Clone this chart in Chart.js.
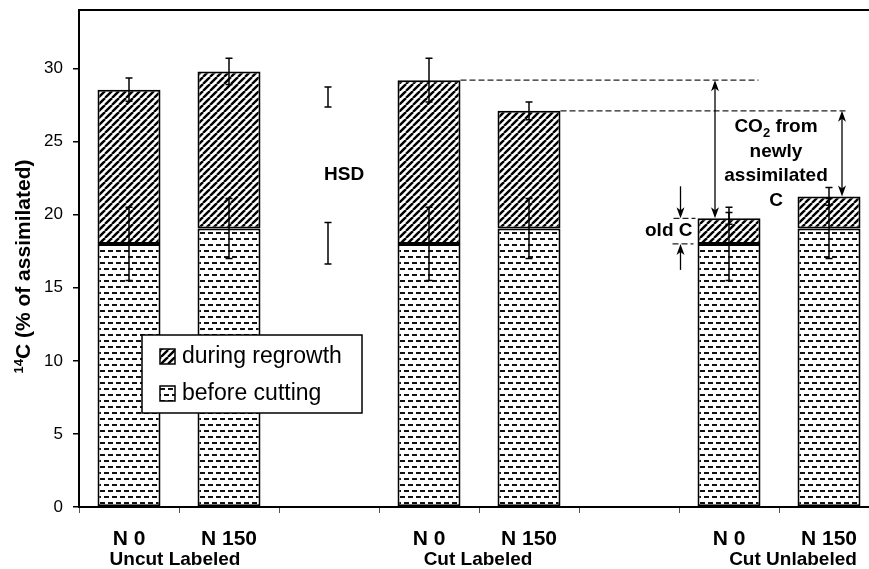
<!DOCTYPE html>
<html lang="en">
  <head>
    <meta charset="UTF-8" />
    <title>14C partitioning after cutting</title>
    <script src="https://cdn.jsdelivr.net/npm/chart.js"></script>
    <style>
      html, body { margin: 0; padding: 0; overflow: hidden; background: #fff; }
    </style>
  </head>
  <body>
    <canvas id="carbonChart" width="880" height="569"></canvas>

    <script>
      // values (% of assimilated 14C)
      const categories = ["N 0", "N 150", "", "N 0", "N 150", "", "N 0", "N 150"];
      const groups = ["Uncut Labeled", "Cut Labeled", "Cut Unlabeled"];
      const beforeCutting = [18.0, 19.05, null, 18.0, 19.05, null, 18.0, 19.05];
      const duringRegrowth = [10.55, 10.75, null, 11.2, 8.05, null, 1.75, 2.2];
      const errTotal = [0.8, 0.9, null, 1.5, 0.6, null, 0.4, 0.6];
      const errBefore = [2.5, 2.05, null, 2.5, 2.05, null, 2.5, 2.05];
      const hsdMid = [28.05, 18.05];
      const hsdHalf = [0.68, 1.42];
      const yTicks = [0, 5, 10, 15, 20, 25, 30];

      const FONT = "'Liberation Sans', Arial, sans-serif";
      const canvas = document.getElementById("carbonChart");
      const ctx = canvas.getContext("2d");

      function makeHatch() {
        const c = document.createElement("canvas");
        c.width = 7;
        c.height = 7;
        const g = c.getContext("2d");
        g.fillStyle = "#fff";
        g.fillRect(0, 0, 7, 7);
        g.strokeStyle = "#000";
        g.lineWidth = 2.4;
        for (const o of [-7, 0, 7]) {
          g.beginPath();
          g.moveTo(o, 7);
          g.lineTo(o + 7, 0);
          g.stroke();
        }
        return ctx.createPattern(c, "repeat");
      }

      function makeDashes() {
        const c = document.createElement("canvas");
        c.width = 8;
        c.height = 12;
        const g = c.getContext("2d");
        g.fillStyle = "#fff";
        g.fillRect(0, 0, 8, 12);
        g.fillStyle = "#111";
        g.fillRect(0, 4, 5, 2);
        g.fillRect(4, 10, 4, 2);
        g.fillRect(0, 10, 1, 2);
        return ctx.createPattern(c, "repeat");
      }

      const hatch = makeHatch();
      const dashes = makeDashes();

      function totalAt(i) {
        return beforeCutting[i] + duringRegrowth[i];
      }

      function vline(c, x, y1, y2) {
        c.beginPath();
        c.moveTo(x, y1);
        c.lineTo(x, y2);
        c.stroke();
      }

      function head(c, x, y, dir) {
        // dir = +1 points down, -1 points up
        c.beginPath();
        c.moveTo(x, y);
        c.lineTo(x - 4, y - dir * 11);
        c.lineTo(x, y - dir * 8);
        c.lineTo(x + 4, y - dir * 11);
        c.closePath();
        c.fill();
      }

      function errBar(c, x, y1, y2, cap) {
        vline(c, x, y1, y2);
        c.beginPath();
        c.moveTo(x - cap, y1);
        c.lineTo(x + cap, y1);
        c.moveTo(x - cap, y2);
        c.lineTo(x + cap, y2);
        c.stroke();
      }

      const extras = {
        id: "extras",
        afterDatasetsDraw(chart) {
          const c = chart.ctx;
          const xs = chart.scales.x;
          const ys = chart.scales.y;
          const area = chart.chartArea;
          const bars = chart.getDatasetMeta(0).data;

          c.save();
          c.strokeStyle = "#000";
          c.fillStyle = "#000";

          // top frame line
          c.lineWidth = 2;
          c.beginPath();
          c.moveTo(area.left - 1, area.top);
          c.lineTo(chart.width, area.top);
          c.stroke();

          // error bars
          c.lineWidth = 1.5;
          categories.forEach((cat, i) => {
            if (beforeCutting[i] == null) return;
            const x = bars[i].x;
            const t = totalAt(i);
            errBar(c, x, ys.getPixelForValue(t + errTotal[i]), ys.getPixelForValue(t - errTotal[i]), 3.5);
            errBar(c, x, ys.getPixelForValue(beforeCutting[i] + errBefore[i]), ys.getPixelForValue(beforeCutting[i] - errBefore[i]), 3.5);
          });

          // HSD bars
          const hx = xs.getPixelForValue(2) - 1;
          hsdMid.forEach((m, k) => {
            errBar(c, hx, ys.getPixelForValue(m + hsdHalf[k]), ys.getPixelForValue(m - hsdHalf[k]), 3.5);
          });
          c.font = "bold 19px " + FONT;
          c.textAlign = "left";
          c.textBaseline = "middle";
          const hsdY = (ys.getPixelForValue(hsdMid[0] - hsdHalf[0]) + ys.getPixelForValue(hsdMid[1] + hsdHalf[1])) / 2 + 10;
          c.fillText("HSD", hx - 4, hsdY);

          // dashed reference lines
          const b3 = bars[3], b4 = bars[4], b6 = bars[6], b7 = bars[7];
          const yT3 = ys.getPixelForValue(totalAt(3));
          const yT4 = ys.getPixelForValue(totalAt(4));
          const yT6 = ys.getPixelForValue(totalAt(6));
          const yT7 = ys.getPixelForValue(totalAt(7));
          const yB6 = ys.getPixelForValue(beforeCutting[6]);
          c.lineWidth = 1.2;
          c.strokeStyle = "#222";
          c.setLineDash([6, 3]);
          c.beginPath();
          c.moveTo(b3.x + b3.width / 2, yT3);
          c.lineTo(b6.x + b6.width / 2 - 2, yT3);
          c.moveTo(b4.x + b4.width / 2, yT4);
          c.lineTo(b7.x + 18, yT4);
          c.stroke();
          // short marks for old C
          const left6 = b6.x - b6.width / 2;
          c.beginPath();
          c.moveTo(left6 - 24, yT6);
          c.lineTo(left6 - 2, yT6);
          c.moveTo(left6 - 25, yB6);
          c.lineTo(left6 - 4, yB6);
          c.stroke();
          c.setLineDash([]);

          // arrows
          c.strokeStyle = "#000";
          c.lineWidth = 1.3;
          const ax1 = b6.x - 14;
          vline(c, ax1, yT3 + 4, yT6 - 4);
          head(c, ax1, yT3, -1);
          head(c, ax1, yT6, 1);
          const ax2 = b7.x + 13;
          vline(c, ax2, yT4 + 4, yT7 - 4);
          head(c, ax2, yT4, -1);
          head(c, ax2, yT7, 1);
          const ax3 = left6 - 17;
          vline(c, ax3, yT6 - 32, yT6 - 4);
          head(c, ax3, yT6, 1);
          vline(c, ax3, yB6 + 26, yB6 + 4);
          head(c, ax3, yB6, -1);

          // text annotations
          c.font = "bold 19px " + FONT;
          c.textAlign = "right";
          c.fillText("old C", left6 - 5, (yT6 + yB6) / 2);

          const cx = (b6.x + b7.x) / 2 - 3;
          let ty = yT3 + 47;
          const subFont = "bold 13px " + FONT;
          const w1 = c.measureText("CO").width;
          const w3 = c.measureText(" from").width;
          c.font = subFont;
          const w2 = c.measureText("2").width;
          let sx = cx - (w1 + w2 + w3) / 2;
          c.textAlign = "left";
          c.font = "bold 19px " + FONT;
          c.fillText("CO", sx, ty);
          c.font = subFont;
          c.fillText("2", sx + w1, ty + 6);
          c.font = "bold 19px " + FONT;
          c.fillText(" from", sx + w1 + w2, ty);
          c.textAlign = "center";
          ["newly", "assimilated", "C"].forEach((s) => {
            ty += 24.5;
            c.fillText(s, cx, ty);
          });

          // group labels under the axis
          const shift = [-4, -1, 14];
          c.font = "bold 19px " + FONT;
          c.textAlign = "center";
          groups.forEach((g, k) => {
            const gx = (xs.getPixelForValue(3 * k) + xs.getPixelForValue(3 * k + 1)) / 2 + shift[k];
            c.fillText(g, gx, area.bottom + 53);
          });

          // legend box
          const lx = area.left + 63, ly = area.top + 325;
          c.fillStyle = "#fff";
          c.fillRect(lx, ly, 220, 78);
          c.lineWidth = 1.5;
          c.strokeRect(lx, ly, 220, 78);
          c.font = "23px " + FONT;
          c.textAlign = "left";
          chart.data.datasets
            .slice()
            .reverse()
            .forEach((ds, k) => {
              const iy = ly + 21 + k * 37;
              c.fillStyle = ds.backgroundColor;
              c.fillRect(lx + 18, iy - 7, 15, 15);
              c.lineWidth = 1.5;
              c.strokeRect(lx + 18, iy - 7, 15, 15);
              c.fillStyle = "#000";
              c.fillText(ds.label, lx + 40, iy + 1);
            });

          // y axis title with superscript
          const big = "bold 21px " + FONT;
          const small = "bold 13px " + FONT;
          c.font = small;
          const sw = c.measureText("14").width;
          c.font = big;
          const mw = c.measureText("C (% of assimilated)").width;
          c.translate(24, (area.top + area.bottom) / 2 + 8);
          c.rotate(-Math.PI / 2);
          const start = -(sw + mw) / 2;
          c.font = small;
          c.fillText("14", start, -5);
          c.font = big;
          c.fillText("C (% of assimilated)", start + sw, 0);

          c.restore();
        },
      };

      new Chart(ctx, {
        type: "bar",
        data: {
          labels: categories,
          datasets: [
            {
              label: "before cutting",
              data: beforeCutting,
              backgroundColor: dashes,
              borderColor: "#000",
              borderWidth: 2,
              borderSkipped: false,
            },
            {
              label: "during regrowth",
              data: duringRegrowth,
              backgroundColor: hatch,
              borderColor: "#000",
              borderWidth: 2,
              borderSkipped: false,
            },
          ],
        },
        options: {
          responsive: false,
          animation: false,
          datasets: {
            bar: { barPercentage: 0.63, categoryPercentage: 1 },
          },
          layout: { padding: { top: 10, right: 1, left: 0, bottom: 0 } },
          plugins: {
            legend: { display: false },
            tooltip: { enabled: false },
          },
          scales: {
            x: {
              stacked: true,
              grid: {
                offset: true,
                drawOnChartArea: false,
                drawTicks: true,
                tickLength: 6,
                color: "#555",
                lineWidth: 1,
              },
              border: { color: "#000", width: 2 },
              ticks: {
                color: "#000",
                padding: 14,
                maxRotation: 0,
                autoSkip: false,
                font: { family: FONT, size: 21, weight: "bold" },
              },
              afterFit(scale) {
                scale.height = 62;
                scale.paddingLeft = 0;
                scale.paddingRight = 0;
              },
            },
            y: {
              stacked: true,
              min: 0,
              max: 34,
              grid: {
                drawOnChartArea: false,
                drawTicks: true,
                tickLength: 6,
                color: "#000",
                lineWidth: 1.5,
              },
              border: { color: "#000", width: 2 },
              ticks: {
                color: "#000",
                padding: 10,
                font: { family: FONT, size: 17 },
              },
              afterBuildTicks(scale) {
                scale.ticks = yTicks.map((v) => ({ value: v }));
              },
              afterFit(scale) {
                scale.width = 79;
                scale.paddingTop = 0;
                scale.paddingBottom = 0;
              },
            },
          },
        },
        plugins: [extras],
      });
    </script>
  </body>
</html>
